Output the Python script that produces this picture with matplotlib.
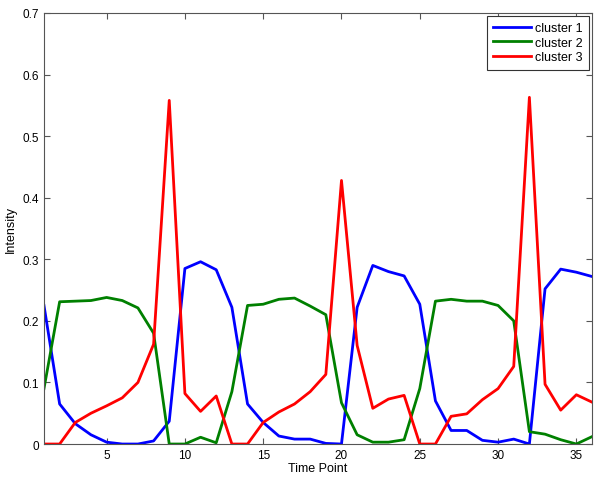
import matplotlib
matplotlib.use("Agg")
import matplotlib.pyplot as plt
import numpy as np

time_points = list(range(1, 37))
cluster1 = [0.225, 0.065, 0.033, 0.015, 0.003, 0.0, 0.0, 0.005, 0.037, 0.285,
            0.296, 0.283, 0.222, 0.065, 0.035, 0.013, 0.008, 0.008, 0.001, 0.0,
            0.222, 0.290, 0.280, 0.273, 0.227, 0.070, 0.022, 0.022, 0.006, 0.003,
            0.008, 0.0, 0.252, 0.284, 0.279, 0.272]
cluster2 = [0.090, 0.231, 0.232, 0.233, 0.238, 0.233, 0.221, 0.180, 0.0, 0.0,
            0.011, 0.002, 0.085, 0.225, 0.227, 0.235, 0.237, 0.224, 0.210, 0.067,
            0.015, 0.003, 0.003, 0.007, 0.090, 0.232, 0.235, 0.232, 0.232, 0.225,
            0.200, 0.020, 0.016, 0.007, 0.0, 0.012]
cluster3 = [0.0, 0.0, 0.035, 0.050, 0.062, 0.075, 0.100, 0.162, 0.558, 0.082,
            0.053, 0.078, 0.0, 0.0, 0.035, 0.052, 0.065, 0.085, 0.113, 0.428,
            0.160, 0.058, 0.073, 0.079, 0.0, 0.0, 0.045, 0.049, 0.072, 0.090,
            0.126, 0.563, 0.097, 0.055, 0.080, 0.068]
labels = ["cluster 1", "cluster 2", "cluster 3"]
colors = ["#0000ff", "#008000", "#ff0000"]

plt.rcParams['font.family'] = ['Liberation Sans', 'DejaVu Sans']
fig = plt.figure(figsize=(6, 4.81), dpi=100)
ax = fig.add_axes([0.0733, 0.0748, 0.9134, 0.8962])

for vals, lab, col in zip([cluster1, cluster2, cluster3], labels, colors):
    ax.plot(time_points, vals, color=col, lw=2.0, label=lab)

ax.set_xlim(1, 36)
ax.set_ylim(0, 0.7)
ax.set_xticks([5, 10, 15, 20, 25, 30, 35])
ax.set_yticks(np.arange(0, 0.71, 0.1))
ax.set_yticklabels(["0", "0.1", "0.2", "0.3", "0.4", "0.5", "0.6", "0.7"])
ax.tick_params(direction='in', top=True, right=True, labelsize=8.5, length=4,
               color='#555555')
for s in ax.spines.values():
    s.set_color('#555555')
ax.set_xlabel("Time Point", fontsize=9, labelpad=1)
ax.set_ylabel("Intensity", fontsize=9, labelpad=4)
leg = ax.legend(loc='upper right', fontsize=9, fancybox=False, edgecolor='#333333',
                framealpha=1, borderaxespad=0.25, handlelength=3.0,
                handletextpad=0.35, labelspacing=0.2, borderpad=0.5)
leg.get_frame().set_linewidth(0.8)
fig.savefig("out.png", dpi=100)
